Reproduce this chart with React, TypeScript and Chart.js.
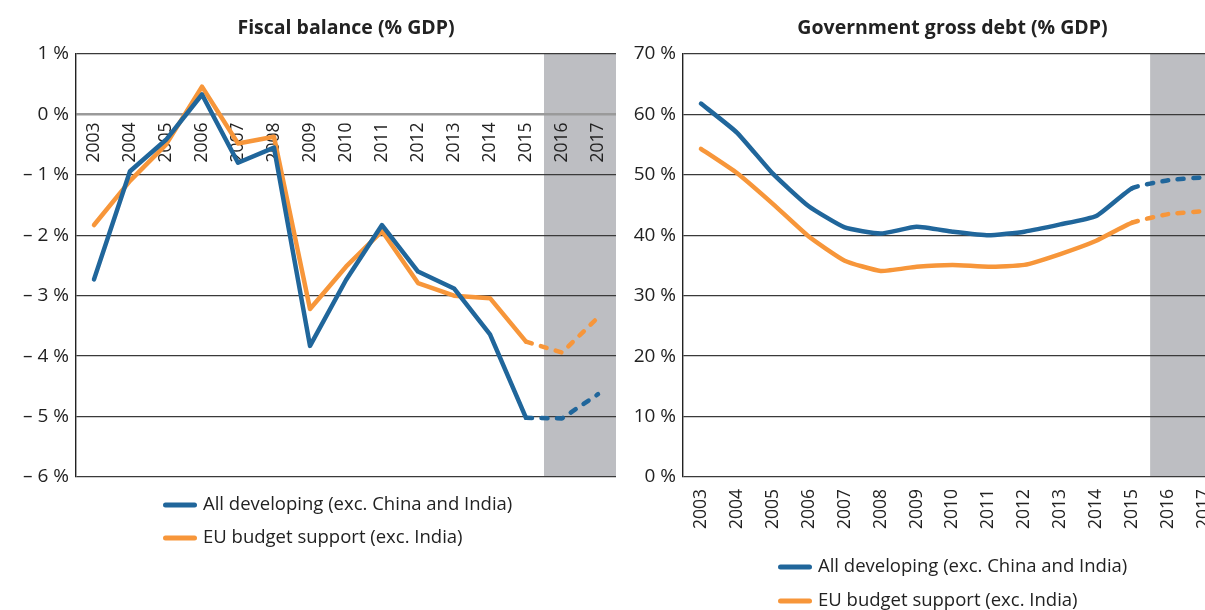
import React, { useEffect, useRef } from "react";
import { Chart, registerables } from "chart.js";

Chart.register(...registerables);

// ---------- data ----------
const years = ["2003", "2004", "2005", "2006", "2007", "2008", "2009", "2010", "2011", "2012", "2013", "2014", "2015", "2016", "2017"];
const forecastFrom = "2016";
const seriesNames = ["All developing (exc. China and India)", "EU budget support (exc. India)"];

const fiscalAllDeveloping = [-2.73, -0.94, -0.42, 0.33, -0.8, -0.55, -3.83, -2.74, -1.83, -2.6, -2.88, -3.64, -5.02, -5.03, -4.63];
const fiscalEUBudget = [-1.83, -1.1, -0.5, 0.46, -0.48, -0.37, -3.22, -2.52, -1.93, -2.79, -3.0, -3.04, -3.76, -3.94, -3.36];

const debtAllDeveloping = [61.8, 57.0, 50.2, 44.8, 41.3, 40.3, 41.4, 40.6, 40.0, 40.6, 41.8, 43.2, 47.8, 49.1, 49.6];
const debtEUBudget = [54.3, 50.3, 45.2, 39.8, 35.8, 34.1, 34.8, 35.1, 34.8, 35.1, 36.9, 39.1, 42.1, 43.5, 44.0];

const fiscalAxis = { min: -6, max: 1, step: 1 };
const debtAxis = { min: 0, max: 70, step: 10 };

const titles = ["Fiscal balance (% GDP)", "Government gross debt (% GDP)"];

// ---------- style ----------
const BLUE = "#20669b";
const ORANGE = "#f7963a";
const SHADE = "#bdbec2";
const TEXT = "#222222";
const GRID = "#3a3a3a";
const ZERO = "#9a9a9a";
const FONT = "'Open Sans', sans-serif";

const forecastShade = {
  id: "forecastShade",
  beforeDraw(chart: any, _args: any, opts: any) {
    const { ctx, chartArea, scales } = chart;
    const idx = chart.data.labels.indexOf(opts.from);
    if (idx < 0) return;
    const x0 = scales.x.getPixelForValue(idx - 0.5);
    ctx.save();
    ctx.fillStyle = opts.color;
    ctx.fillRect(x0, chartArea.top, chartArea.right - x0, chartArea.bottom - chartArea.top);
    ctx.restore();
  },
};

const stackedLegend = {
  id: "stackedLegend",
  afterDraw(chart: any, _args: any, opts: any) {
    const { ctx } = chart;
    chart.data.datasets.forEach((ds: any, i: number) => {
      const y = opts.y + i * opts.gap;
      ctx.save();
      ctx.strokeStyle = ds.borderColor;
      ctx.lineWidth = 5;
      ctx.lineCap = "round";
      ctx.beginPath();
      ctx.moveTo(opts.x + 2.5, y);
      ctx.lineTo(opts.x + 31.5, y);
      ctx.stroke();
      ctx.fillStyle = TEXT;
      ctx.font = `18.5px ${FONT}`;
      ctx.textBaseline = "middle";
      ctx.textAlign = "left";
      ctx.fillText(ds.label, opts.x + 40, y);
      ctx.restore();
    });
  },
};

function pctLabel(v: number) {
  return v < 0 ? `\u2013 ${Math.abs(v)} %` : `${v} %`;
}

function makeConfig(opts: {
  title: string;
  a: number[];
  b: number[];
  axis: { min: number; max: number; step: number };
  yWidth: number;
  padRight: number;
  xPad: number;
  zeroGray: boolean;
  legendX: number;
  legendY: number;
  legendGap: number;
  tension: number;
}): any {
  const fIdx = years.indexOf(forecastFrom);
  const dashSeg = {
    borderDash: (ctx: any) => (ctx.p0DataIndex >= fIdx - 1 ? [6, 9.5] : undefined),
  };
  const common = {
    borderWidth: 4.5,
    pointRadius: 0,
    pointHoverRadius: 0,
    fill: false,
    tension: opts.tension,
    borderCapStyle: "round",
    borderJoinStyle: "round",
    segment: dashSeg,
  };
  return {
    type: "line",
    data: {
      labels: years,
      datasets: [
        { ...common, label: seriesNames[0], data: opts.a, borderColor: BLUE, backgroundColor: BLUE },
        { ...common, label: seriesNames[1], data: opts.b, borderColor: ORANGE, backgroundColor: ORANGE },
      ],
    },
    options: {
      animation: false,
      responsive: false,
      devicePixelRatio: 1,
      events: [],
      layout: { padding: { left: 0, right: opts.padRight, top: 0, bottom: 133 } },
      plugins: {
        legend: { display: false },
        tooltip: { enabled: false },
        title: {
          display: true,
          text: opts.title,
          fullSize: false,
          color: TEXT,
          font: { family: FONT, size: 19.5, weight: "bold", lineHeight: 1.2 },
          padding: { top: 17, bottom: 13.6 },
        },
        forecastShade: { from: forecastFrom, color: SHADE },
        stackedLegend: { x: opts.legendX, y: opts.legendY, gap: opts.legendGap },
      },
      scales: {
        x: {
          type: "category",
          position: { y: 0 },
          offset: true,
          afterFit(scale: any) {
            scale.paddingLeft = 0;
            scale.paddingRight = 0;
          },
          grid: { display: false, drawTicks: false },
          border: { display: false },
          ticks: {
            autoSkip: false,
            minRotation: 90,
            maxRotation: 90,
            padding: opts.xPad,
            color: TEXT,
            font: { family: FONT, size: 17.5 },
          },
        },
        y: {
          min: opts.axis.min,
          max: opts.axis.max,
          afterFit(scale: any) {
            scale.width = opts.yWidth;
          },
          ticks: {
            stepSize: opts.axis.step,
            padding: 7,
            color: TEXT,
            font: { family: FONT, size: 19 },
            callback: (v: any) => pctLabel(Number(v)),
          },
          grid: {
            drawTicks: false,
            color: (ctx: any) => (opts.zeroGray && ctx.tick && ctx.tick.value === 0 ? ZERO : GRID),
            lineWidth: (ctx: any) => (opts.zeroGray && ctx.tick && ctx.tick.value === 0 ? 2.5 : 1.3),
          },
          border: { display: true, color: "#222", width: 1.4 },
        },
      },
    },
    plugins: [forecastShade, stackedLegend],
  };
}

export default function App() {
  const leftRef = useRef<HTMLCanvasElement | null>(null);
  const rightRef = useRef<HTMLCanvasElement | null>(null);

  useEffect(() => {
    const left = new Chart(
      leftRef.current as HTMLCanvasElement,
      makeConfig({
        title: titles[0],
        a: fiscalAllDeveloping,
        b: fiscalEUBudget,
        axis: fiscalAxis,
        yWidth: 76,
        padRight: 4,
        xPad: 8,
        zeroGray: true,
        legendX: 163,
        legendY: 505,
        legendGap: 33,
        tension: 0,
      })
    );
    const right = new Chart(
      rightRef.current as HTMLCanvasElement,
      makeConfig({
        title: titles[1],
        a: debtAllDeveloping,
        b: debtEUBudget,
        axis: debtAxis,
        yWidth: 63,
        padRight: 8,
        xPad: 12,
        zeroGray: false,
        legendX: 158,
        legendY: 567,
        legendGap: 34,
        tension: 0.15,
      })
    );
    return () => {
      left.destroy();
      right.destroy();
    };
  }, []);

  return (
    <div
      style={{
        position: "fixed",
        left: 0,
        top: 0,
        width: 1205,
        height: 610,
        overflow: "hidden",
        background: "#fff",
      }}
    >
      <canvas ref={leftRef} width={620} height={610} style={{ position: "absolute", left: 0, top: 0 }} />
      <canvas ref={rightRef} width={610} height={610} style={{ position: "absolute", left: 620, top: 0 }} />
    </div>
  );
}
